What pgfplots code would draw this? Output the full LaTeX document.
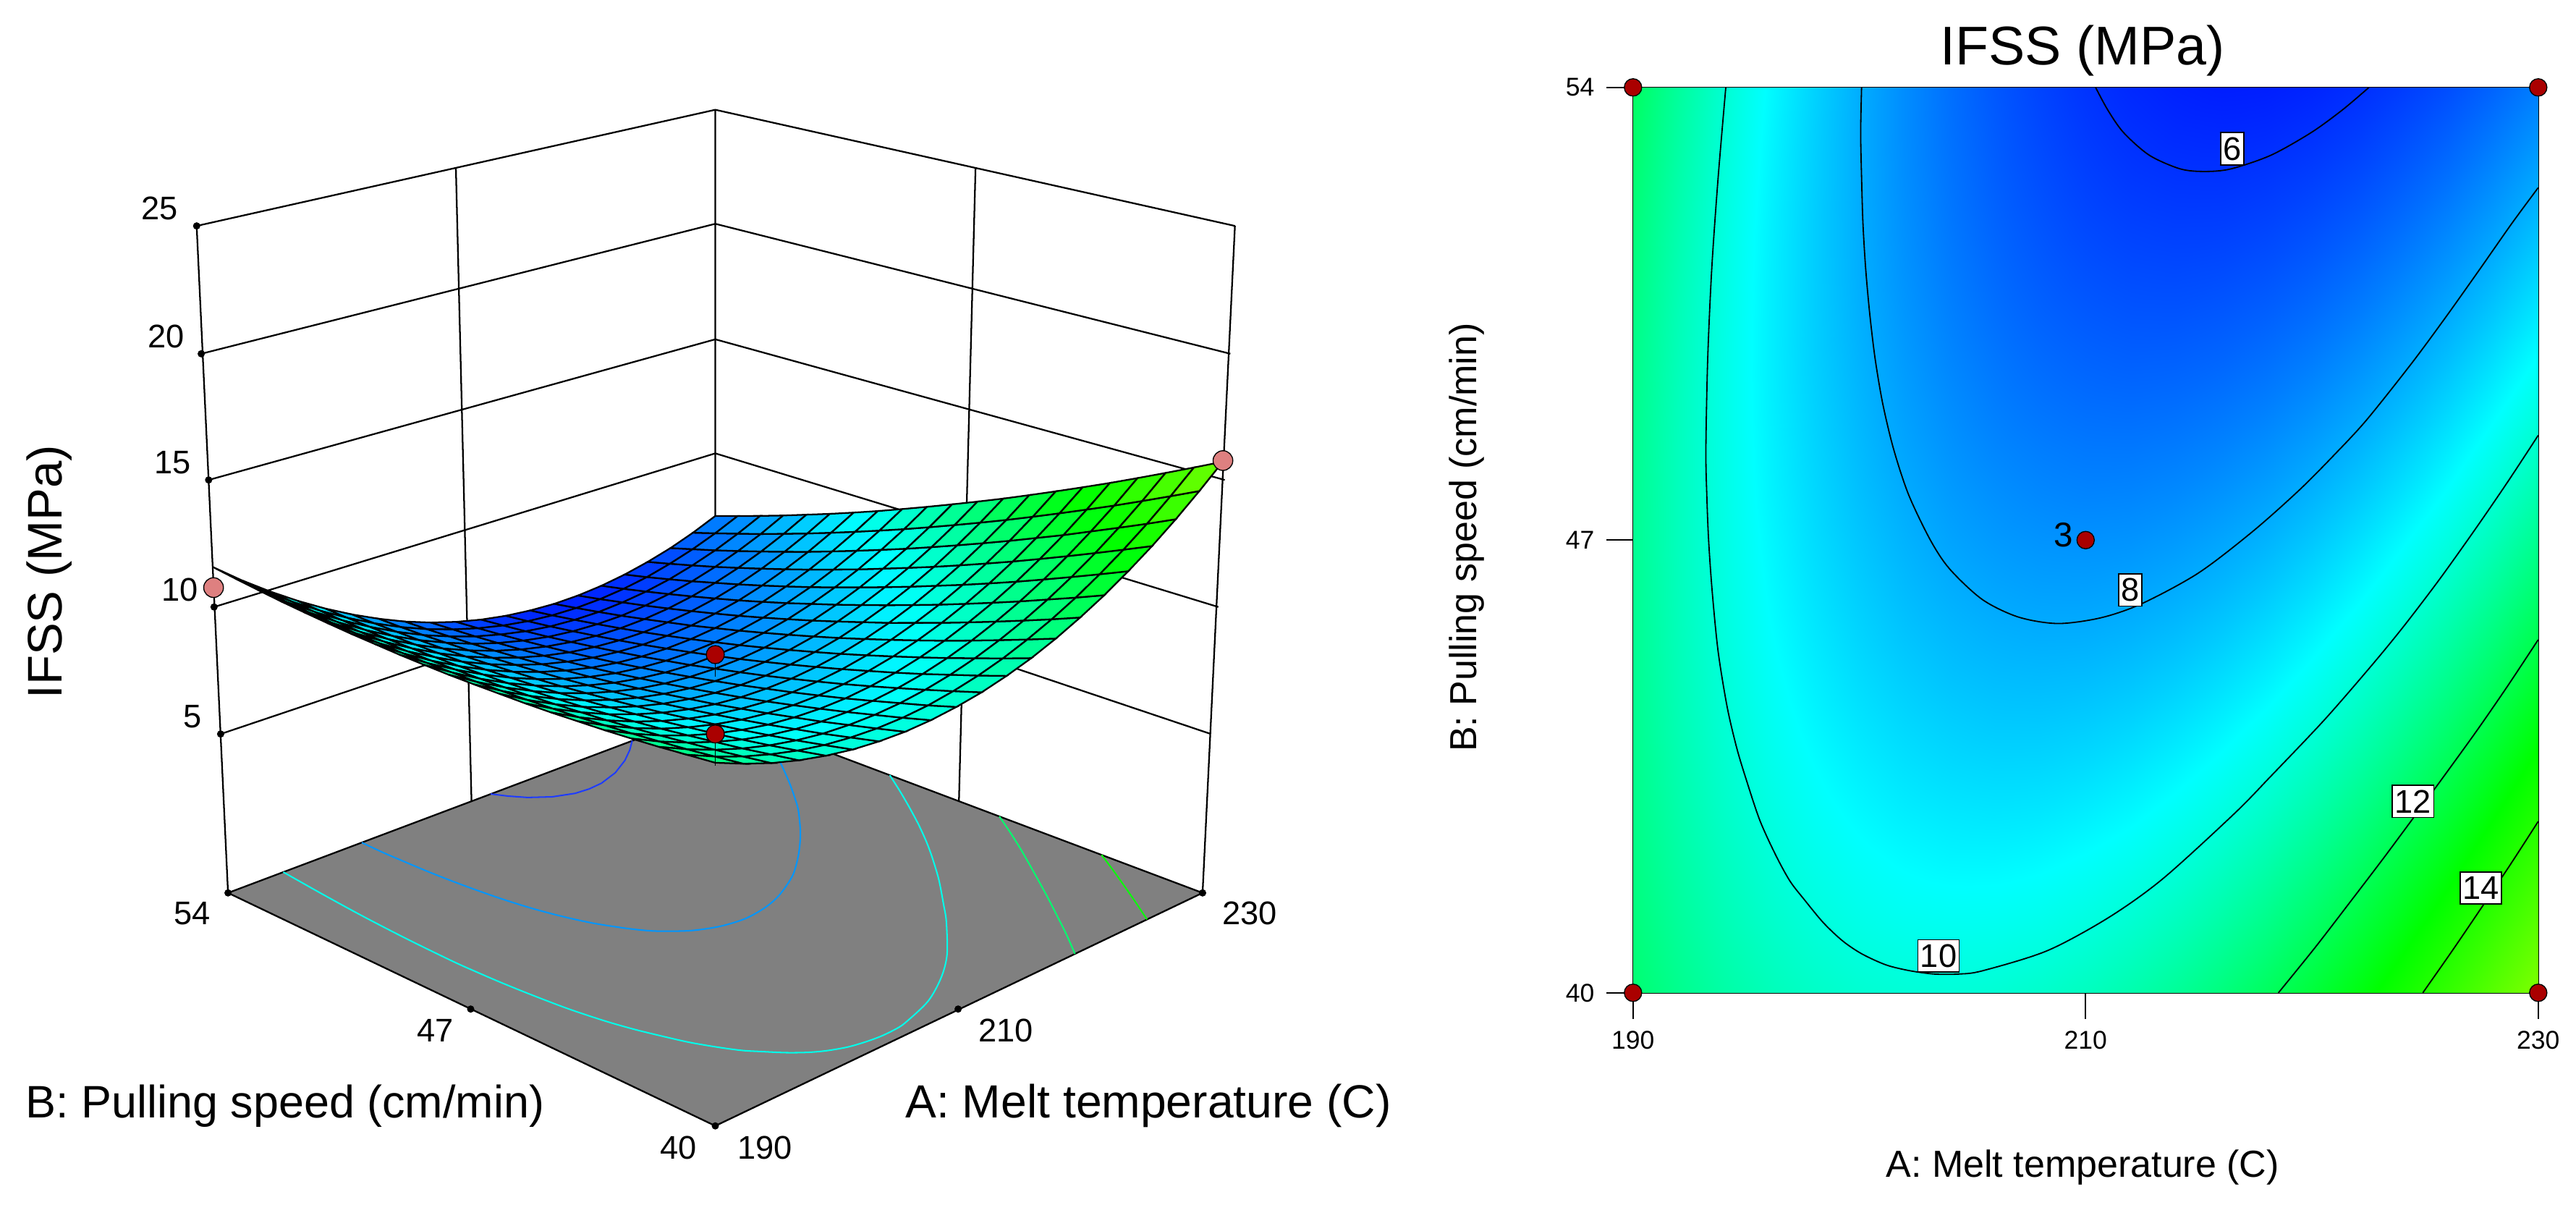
\documentclass[border=0pt]{standalone}
\usepackage{fontspec}
\setmainfont{Liberation Sans}
\usepackage{pgfplots}
\usepackage{pgfplotstable}
\pgfplotsset{compat=1.18}

\definecolor{floorgray}{RGB}{128,128,128}
\definecolor{dred}{RGB}{170,0,0}
\definecolor{pinkdot}{RGB}{222,128,128}

\pgfplotsset{colormap={rsm}{rgb255(0cm)=(0,0,255); rgb255(4.2cm)=(0,255,255); rgb255(8.1cm)=(0,255,0); rgb255(13.9cm)=(255,255,0)}}

% perspective of the 3D panel, in picture units
\newcommand\uu{((\thisrow{A}-190)/40)}
\newcommand\vv{((\thisrow{B}-40)/14)}
\newcommand\px[1]{435.4+336.7*(\uu-\vv)*(1+0.0644*(#1))/(1+0.1353*(\uu+\vv))}
\newcommand\py[1]{(685.2-68.3*(\uu+\vv)-460.7*(#1))/(1+0.1353*(\uu+\vv))}
\newcommand\tz{(0.0618+0.03612*\thisrow{z})}

\pgfplotstableread{
A B z
190 54 11.82
192 54 10.92
194 54 10.10
196 54 9.35
198 54 8.67
200 54 8.06
202 54 7.52
204 54 7.04
206 54 6.64
208 54 6.31
210 54 6.05
212 54 5.86
214 54 5.74
216 54 5.68
218 54 5.70
220 54 5.79
222 54 5.95
224 54 6.18
226 54 6.47
228 54 6.84
230 54 7.28
190 53.3 11.69
192 53.3 10.82
194 53.3 10.02
196 53.3 9.29
198 53.3 8.63
200 53.3 8.04
202 53.3 7.52
204 53.3 7.07
206 53.3 6.70
208 53.3 6.39
210 53.3 6.15
212 53.3 5.98
214 53.3 5.88
216 53.3 5.85
218 53.3 5.89
220 53.3 6.00
222 53.3 6.18
224 53.3 6.44
226 53.3 6.76
228 53.3 7.15
230 53.3 7.61
190 52.6 11.57
192 52.6 10.72
194 52.6 9.95
196 52.6 9.24
198 52.6 8.61
200 52.6 8.04
202 52.6 7.54
204 52.6 7.12
206 52.6 6.76
208 52.6 6.48
210 52.6 6.26
212 52.6 6.11
214 52.6 6.04
216 52.6 6.03
218 52.6 6.10
220 52.6 6.23
222 52.6 6.43
224 52.6 6.71
226 52.6 7.05
228 52.6 7.47
230 52.6 7.95
190 51.9 11.46
192 51.9 10.64
194 51.9 9.89
196 51.9 9.20
198 51.9 8.59
200 51.9 8.05
202 51.9 7.58
204 51.9 7.17
206 51.9 6.84
208 51.9 6.58
210 51.9 6.38
212 51.9 6.26
214 51.9 6.21
216 51.9 6.22
218 51.9 6.31
220 51.9 6.47
222 51.9 6.69
224 51.9 6.99
226 51.9 7.36
228 51.9 7.79
230 51.9 8.30
190 51.2 11.37
192 51.2 10.57
194 51.2 9.84
196 51.2 9.18
198 51.2 8.59
200 51.2 8.07
202 51.2 7.62
204 51.2 7.24
206 51.2 6.93
208 51.2 6.69
210 51.2 6.52
212 51.2 6.42
214 51.2 6.39
216 51.2 6.43
218 51.2 6.54
220 51.2 6.72
222 51.2 6.97
224 51.2 7.29
226 51.2 7.68
228 51.2 8.14
230 51.2 8.67
190 50.5 11.29
192 50.5 10.51
194 50.5 9.81
196 50.5 9.17
198 50.5 8.60
200 50.5 8.10
202 50.5 7.68
204 50.5 7.32
206 50.5 7.03
208 50.5 6.81
210 50.5 6.67
212 50.5 6.59
214 50.5 6.58
216 50.5 6.65
218 50.5 6.78
220 50.5 6.98
222 50.5 7.25
224 50.5 7.60
226 50.5 8.01
228 50.5 8.49
230 50.5 9.04
190 49.8 11.22
192 49.8 10.47
194 49.8 9.78
196 49.8 9.17
198 49.8 8.62
200 49.8 8.15
202 49.8 7.75
204 49.8 7.41
206 49.8 7.15
208 49.8 6.95
210 49.8 6.83
212 49.8 6.77
214 49.8 6.79
216 49.8 6.87
218 49.8 7.03
220 49.8 7.25
222 49.8 7.55
224 49.8 7.92
226 49.8 8.35
228 49.8 8.86
230 49.8 9.43
190 49.1 11.17
192 49.1 10.43
194 49.1 9.77
196 49.1 9.18
198 49.1 8.66
200 49.1 8.21
202 49.1 7.83
204 49.1 7.52
206 49.1 7.27
208 49.1 7.10
210 49.1 7.00
212 49.1 6.97
214 49.1 7.01
216 49.1 7.12
218 49.1 7.29
220 49.1 7.54
222 49.1 7.86
224 49.1 8.25
226 49.1 8.71
228 49.1 9.24
230 49.1 9.83
190 48.4 11.12
192 48.4 10.41
194 48.4 9.78
196 48.4 9.21
198 48.4 8.71
200 48.4 8.28
202 48.4 7.92
204 48.4 7.63
206 48.4 7.41
208 48.4 7.27
210 48.4 7.19
212 48.4 7.18
214 48.4 7.24
216 48.4 7.37
218 48.4 7.57
220 48.4 7.84
222 48.4 8.18
224 48.4 8.60
226 48.4 9.08
228 48.4 9.63
230 48.4 10.25
190 47.7 11.09
192 47.7 10.41
194 47.7 9.79
196 47.7 9.24
198 47.7 8.77
200 47.7 8.36
202 47.7 8.03
204 47.7 7.76
206 47.7 7.57
208 47.7 7.44
210 47.7 7.38
212 47.7 7.40
214 47.7 7.48
216 47.7 7.64
218 47.7 7.86
220 47.7 8.16
222 47.7 8.52
224 47.7 8.95
226 47.7 9.46
228 47.7 10.03
230 47.7 10.68
190 47 11.07
192 47 10.41
194 47 9.82
196 47 9.30
198 47 8.84
200 47 8.46
202 47 8.15
204 47 7.90
206 47 7.73
208 47 7.63
210 47 7.60
212 47 7.63
214 47 7.74
216 47 7.92
218 47 8.16
220 47 8.48
222 47 8.87
224 47 9.33
226 47 9.85
228 47 10.45
230 47 11.12
190 46.3 11.07
192 46.3 10.43
194 46.3 9.86
196 46.3 9.36
198 46.3 8.93
200 46.3 8.57
202 46.3 8.28
204 46.3 8.06
206 46.3 7.91
208 46.3 7.83
210 46.3 7.82
212 46.3 7.88
214 46.3 8.01
216 46.3 8.21
218 46.3 8.48
220 46.3 8.82
222 46.3 9.23
224 46.3 9.71
226 46.3 10.26
228 46.3 10.88
230 46.3 11.57
190 45.6 11.08
192 45.6 10.46
194 45.6 9.91
196 45.6 9.43
198 45.6 9.03
200 45.6 8.69
202 45.6 8.42
204 45.6 8.23
206 45.6 8.10
208 45.6 8.04
210 45.6 8.05
212 45.6 8.14
214 45.6 8.29
216 45.6 8.51
218 45.6 8.81
220 45.6 9.17
222 45.6 9.60
224 45.6 10.10
226 45.6 10.68
228 45.6 11.32
230 45.6 12.03
190 44.9 11.09
192 44.9 10.50
194 44.9 9.98
196 44.9 9.52
198 44.9 9.14
200 44.9 8.82
202 44.9 8.58
204 44.9 8.40
206 44.9 8.30
208 44.9 8.27
210 44.9 8.30
212 44.9 8.41
214 44.9 8.58
216 44.9 8.83
218 44.9 9.14
220 44.9 9.53
222 44.9 9.99
224 44.9 10.51
226 44.9 11.11
228 44.9 11.77
230 44.9 12.51
190 44.2 11.12
192 44.2 10.55
194 44.2 10.05
196 44.2 9.62
198 44.2 9.26
200 44.2 8.97
202 44.2 8.75
204 44.2 8.60
206 44.2 8.51
208 44.2 8.50
210 44.2 8.56
212 44.2 8.69
214 44.2 8.89
216 44.2 9.16
218 44.2 9.50
220 44.2 9.90
222 44.2 10.38
224 44.2 10.93
226 44.2 11.55
228 44.2 12.24
230 44.2 13.00
190 43.5 11.17
192 43.5 10.62
194 43.5 10.14
196 43.5 9.73
198 43.5 9.40
200 43.5 9.13
202 43.5 8.93
204 43.5 8.80
206 43.5 8.74
208 43.5 8.75
210 43.5 8.83
212 43.5 8.99
214 43.5 9.21
216 43.5 9.50
218 43.5 9.86
220 43.5 10.29
222 43.5 10.79
224 43.5 11.36
226 43.5 12.01
228 43.5 12.72
230 43.5 13.50
190 42.8 11.22
192 42.8 10.70
194 42.8 10.24
196 42.8 9.86
198 42.8 9.54
200 42.8 9.30
202 42.8 9.12
204 42.8 9.02
206 42.8 8.98
208 42.8 9.01
210 42.8 9.12
212 42.8 9.29
214 42.8 9.54
216 42.8 9.85
218 42.8 10.24
220 42.8 10.69
222 42.8 11.21
224 42.8 11.81
226 42.8 12.47
228 42.8 13.21
230 42.8 14.01
190 42.1 11.29
192 42.1 10.79
194 42.1 10.36
196 42.1 10.00
198 42.1 9.70
200 42.1 9.48
202 42.1 9.33
204 42.1 9.24
206 42.1 9.23
208 42.1 9.29
210 42.1 9.42
212 42.1 9.61
214 42.1 9.88
216 42.1 10.22
218 42.1 10.63
220 42.1 11.10
222 42.1 11.65
224 42.1 12.27
226 42.1 12.96
228 42.1 13.71
230 42.1 14.54
190 41.4 11.37
192 41.4 10.89
194 41.4 10.48
196 41.4 10.14
198 41.4 9.87
200 41.4 9.67
202 41.4 9.54
204 41.4 9.49
206 41.4 9.50
208 41.4 9.58
210 41.4 9.73
212 41.4 9.95
214 41.4 10.24
216 41.4 10.60
218 41.4 11.03
220 41.4 11.53
222 41.4 12.10
224 41.4 12.74
226 41.4 13.45
228 41.4 14.23
230 41.4 15.08
190 40.7 11.47
192 40.7 11.01
194 40.7 10.62
196 40.7 10.31
198 40.7 10.06
200 40.7 9.88
202 40.7 9.78
204 40.7 9.74
206 40.7 9.77
208 40.7 9.87
210 40.7 10.05
212 40.7 10.29
214 40.7 10.60
216 40.7 10.99
218 40.7 11.44
220 40.7 11.96
222 40.7 12.56
224 40.7 13.22
226 40.7 13.95
228 40.7 14.76
230 40.7 15.63
190 40 11.57
192 40 11.14
194 40 10.77
196 40 10.48
198 40 10.26
200 40 10.10
202 40 10.02
204 40 10.00
206 40 10.06
208 40 10.19
210 40 10.38
212 40 10.65
214 40 10.98
216 40 11.39
218 40 11.87
220 40 12.41
222 40 13.03
224 40 13.71
226 40 14.47
228 40 15.30
230 40 16.19
}\grid

\pgfplotstableread[row sep=\\]{
A B\\ 210.44 54\\ 210.98 53.65\\ 211.68 53.3\\ 212.82 52.95\\ 214.18 52.74\\ 215.26 52.70\\ 216.42 52.74\\ 218.18 52.95\\ 219.96 53.3\\ 221.34 53.65\\ 222.52 54\\
}\levelsix
\pgfplotstableread[row sep=\\]{
A B\\ 200.10 54\\ 200.06 53.3\\ 200.10 52.6\\ 200.16 51.9\\ 200.28 51.2\\ 200.46 50.5\\ 200.70 49.8\\ 201.04 49.1\\ 201.52 48.4\\ 202.18 47.7\\ 203.14 47\\ 204.0 46.55\\ 205.44 46.08\\ 207.03 45.81\\ 208.78 45.71\\ 210.69 45.80\\ 212.5 46.02\\ 214.98 46.49\\ 217.37 47.13\\ 219.43 47.77\\ 221.02 48.33\\ 222.42 48.86\\ 224.42 49.74\\ 225.96 50.47\\ 227.44 51.2\\ 228.84 51.9\\ 230 52.45\\
}\leveleight
\pgfplotstableread[row sep=\\]{
A B\\ 194.10 54\\ 193.76 52.6\\ 193.48 51.2\\ 193.30 49.8\\ 193.22 48.4\\ 193.26 47.7\\ 193.34 47\\ 193.50 46.2\\ 193.76 45.28\\ 194.16 44.42\\ 194.58 43.79\\ 195.0 43.30\\ 195.6 42.67\\ 196.29 42.14\\ 196.93 41.73\\ 197.57 41.44\\ 198.42 41.08\\ 199.27 40.80\\ 200.12 40.60\\ 201.19 40.43\\ 202.25 40.34\\ 203.32 40.29\\ 204.39 40.29\\ 205.44 40.34\\ 208.3 40.65\\ 211.0 41.16\\ 213.4 41.76\\ 216.57 42.77\\ 218.16 43.34\\ 220.55 44.22\\ 222.61 45.05\\ 224.04 45.66\\ 225.63 46.39\\ 227.22 47.17\\ 228.65 47.90\\ 230 48.62\\
}\levelten
\pgfplotstableread[row sep=\\]{
A B\\ 218.52 40\\ 220.14 40.7\\ 221.68 41.4\\ 223.16 42.08\\ 224.6 42.76\\ 225.98 43.42\\ 227.32 44.07\\ 228.64 44.74\\ 230 45.46\\
}\leveltwelve
\pgfplotstableread[row sep=\\]{
A B\\ 224.9 40\\ 226.2 40.65\\ 227.5 41.32\\ 228.8 42.0\\ 230 42.65\\
}\levelfourteen

\begin{document}
\begin{tikzpicture}
\path[use as bounding box] (0,0) rectangle (1568bp,733bp);

% left panel: axis in picture units, surface projected from the table
\begin{axis}[
  at={(0bp,0bp)}, anchor=south west,
  scale only axis, width=1568bp, height=733bp,
  xmin=0, xmax=1568, ymin=0, ymax=733, y dir=reverse,
  hide axis, clip=false,
  colormap name=rsm, point meta min=5.2, point meta max=19.1,
  unbounded coords=jump]

\addplot[black, line width=1bp] coordinates {
 (119.7,137.5) (435.4,66.8) (751.7,137.5) (nan,nan)
 (122.5,215.3) (435.4,136.2) (748.9,215.3) (nan,nan)
 (127,292.1) (435.4,206.5) (745.5,292.1) (nan,nan)
 (130.3,369.4) (435.4,275.9) (741.6,369.4) (nan,nan)
 (134.3,446.7) (435.4,345.3) (737.1,446.7) (nan,nan)
 (119.7,137.5) (138.8,543.4) (nan,nan)
 (751.7,137.5) (732,543.4) (nan,nan)
 (277.5,102.4) (287,487.6) (nan,nan)
 (593.8,102.4) (583.7,487.6) (nan,nan)
 (435.4,66.8) (435.4,431.8)};

\addplot[fill=floorgray, draw=black, line width=1bp] coordinates {
 (435.4,685.2) (732,543.4) (435.4,431.8) (138.8,543.4)} --cycle;

\addplot[color={rgb,255:red,30;green,60;blue,255}, line width=0.9bp] table[x expr={\px{0}}, y expr={\py{0}}] {\levelsix};
\addplot[color={rgb,255:red,0;green,150;blue,255}, line width=0.9bp, smooth] table[x expr={\px{0}}, y expr={\py{0}}] {\leveleight};
\addplot[color={rgb,255:red,0;green,255;blue,235}, line width=0.9bp, smooth] table[x expr={\px{0}}, y expr={\py{0}}] {\levelten};
\addplot[color={rgb,255:red,0;green,255;blue,110}, line width=0.9bp, smooth] table[x expr={\px{0}}, y expr={\py{0}}] {\leveltwelve};
\addplot[color={rgb,255:red,10;green,255;blue,10}, line width=0.9bp, smooth] table[x expr={\px{0}}, y expr={\py{0}}] {\levelfourteen};

\addplot[surf, shader=faceted, faceted color=black, line width=1bp, mesh/cols=21, point meta=explicit]
  table[x expr={\px{\tz}}, y expr={\py{\tz}}, meta=z] {\grid};

\addplot[black, line width=0.7bp] coordinates {(435.4,398.4) (435.4,412) (nan,nan) (435.4,446.7) (435.4,466)};
\addplot[only marks, mark=*, mark size=5.5bp, mark options={fill=dred, draw=black, line width=0.6bp}]
  coordinates {(435.4,398.4) (435.4,446.7)};
\addplot[only marks, mark=*, mark size=6bp, mark options={fill=pinkdot, draw=black, line width=0.6bp}]
  coordinates {(130,357.6) (744.4,280.3)};
\addplot[only marks, mark=*, mark size=2bp, mark options={fill=black, draw=black}] coordinates {
 (119.7,137.5) (122.5,215.3) (127,292.1) (130.3,369.4) (134.3,446.7)
 (138.8,543.4) (286.5,614.1) (435.4,685.2) (583.2,614.1) (732,543.4)};

\node[font=\fontsize{20}{24}\selectfont] at (axis cs:97,126.6) {25};
\node[font=\fontsize{20}{24}\selectfont] at (axis cs:101,204.7) {20};
\node[font=\fontsize{20}{24}\selectfont] at (axis cs:105,281.6) {15};
\node[font=\fontsize{20}{24}\selectfont] at (axis cs:109.5,359) {10};
\node[font=\fontsize{20}{24}\selectfont] at (axis cs:117.4,436) {5};
\node[font=\fontsize{20}{24}\selectfont] at (axis cs:117,555.7) {54};
\node[font=\fontsize{20}{24}\selectfont] at (axis cs:265,627) {47};
\node[font=\fontsize{20}{24}\selectfont] at (axis cs:413,698.4) {40};
\node[font=\fontsize{20}{24}\selectfont] at (axis cs:465.7,698.4) {190};
\node[font=\fontsize{20}{24}\selectfont] at (axis cs:612.4,627) {210};
\node[font=\fontsize{20}{24}\selectfont] at (axis cs:760.7,555.7) {230};
\node[font=\fontsize{29.7}{34}\selectfont, rotate=90] at (axis cs:30,348) {IFSS (MPa)};
\node[font=\fontsize{27.8}{32}\selectfont] at (axis cs:173.5,673) {B: Pulling speed (cm/min)};
\node[font=\fontsize{28.4}{32}\selectfont] at (axis cs:699,673) {A: Melt temperature (C)};
\end{axis}

% right panel: contour view
\begin{axis}[
  at={(994bp,128.8bp)}, anchor=south west,
  scale only axis, width=551bp, height=551bp,
  xmin=190, xmax=230, ymin=40, ymax=54, clip=false,
  xtick={190,210,230}, ytick={40,47,54},
  xticklabels={190,210,230}, yticklabels={40,47,54},
  xtick pos=bottom, ytick pos=left,
  tick align=outside, major tick length=16bp,
  tick style={black, line width=0.75bp}, axis line style={line width=0.85bp},
  tick label style={font=\fontsize{15.7}{18}\selectfont},
  xticklabel shift=4bp, yticklabel shift=4bp,
  title={IFSS (MPa)},
  title style={font=\fontsize{33.3}{38}\selectfont, at={(axis description cs:0.4967,1.0301)}, anchor=center},
  xlabel={A: Melt temperature (C)},
  xlabel style={font=\fontsize{23}{27}\selectfont, at={(axis description cs:0.4967,-0.1925)}, anchor=center},
  ylabel={B: Pulling speed (cm/min)},
  ylabel style={font=\fontsize{23}{27}\selectfont, at={(axis description cs:-0.184,0.503)}, anchor=center},
  colormap name=rsm, point meta min=5.2, point meta max=19.1]

\addplot[surf, shader=interp, mesh/cols=21, point meta=explicit]
  table[x=A, y=B, meta=z] {\grid};

\addplot[black, line width=0.8bp, smooth] table[x=A, y=B] {\levelsix};
\addplot[black, line width=0.8bp, smooth] table[x=A, y=B] {\leveleight};
\addplot[black, line width=0.8bp, smooth] table[x=A, y=B] {\levelten};
\addplot[black, line width=0.8bp, smooth] table[x=A, y=B] {\leveltwelve};
\addplot[black, line width=0.8bp, smooth] table[x=A, y=B] {\levelfourteen};

\addplot[only marks, mark=*, mark size=5.3bp, mark options={fill=dred, draw=black, line width=0.6bp}]
  coordinates {(190,54) (230,54) (190,40) (230,40) (210,47)};

\node[fill=white, draw=black, line width=0.75bp, inner xsep=1.5bp, inner ysep=2.8bp, font=\fontsize{20}{24}\selectfont] at (axis cs:216.48,53.05) {6};
\node[fill=white, draw=black, line width=0.75bp, inner xsep=1.5bp, inner ysep=2.8bp, font=\fontsize{20}{24}\selectfont] at (axis cs:211.97,46.23) {8};
\node[fill=white, draw=black, line width=0.75bp, inner xsep=1.5bp, inner ysep=2.8bp, font=\fontsize{20}{24}\selectfont] at (axis cs:203.5,40.57) {10};
\node[fill=white, draw=black, line width=0.75bp, inner xsep=1.5bp, inner ysep=2.8bp, font=\fontsize{20}{24}\selectfont] at (axis cs:224.47,42.96) {12};
\node[fill=white, draw=black, line width=0.75bp, inner xsep=1.5bp, inner ysep=2.8bp, font=\fontsize{20}{24}\selectfont] at (axis cs:227.46,41.62) {14};
\node[font=\fontsize{21}{24}\selectfont] at (axis cs:209.03,47.08) {3};
\end{axis}
\end{tikzpicture}
\end{document}
